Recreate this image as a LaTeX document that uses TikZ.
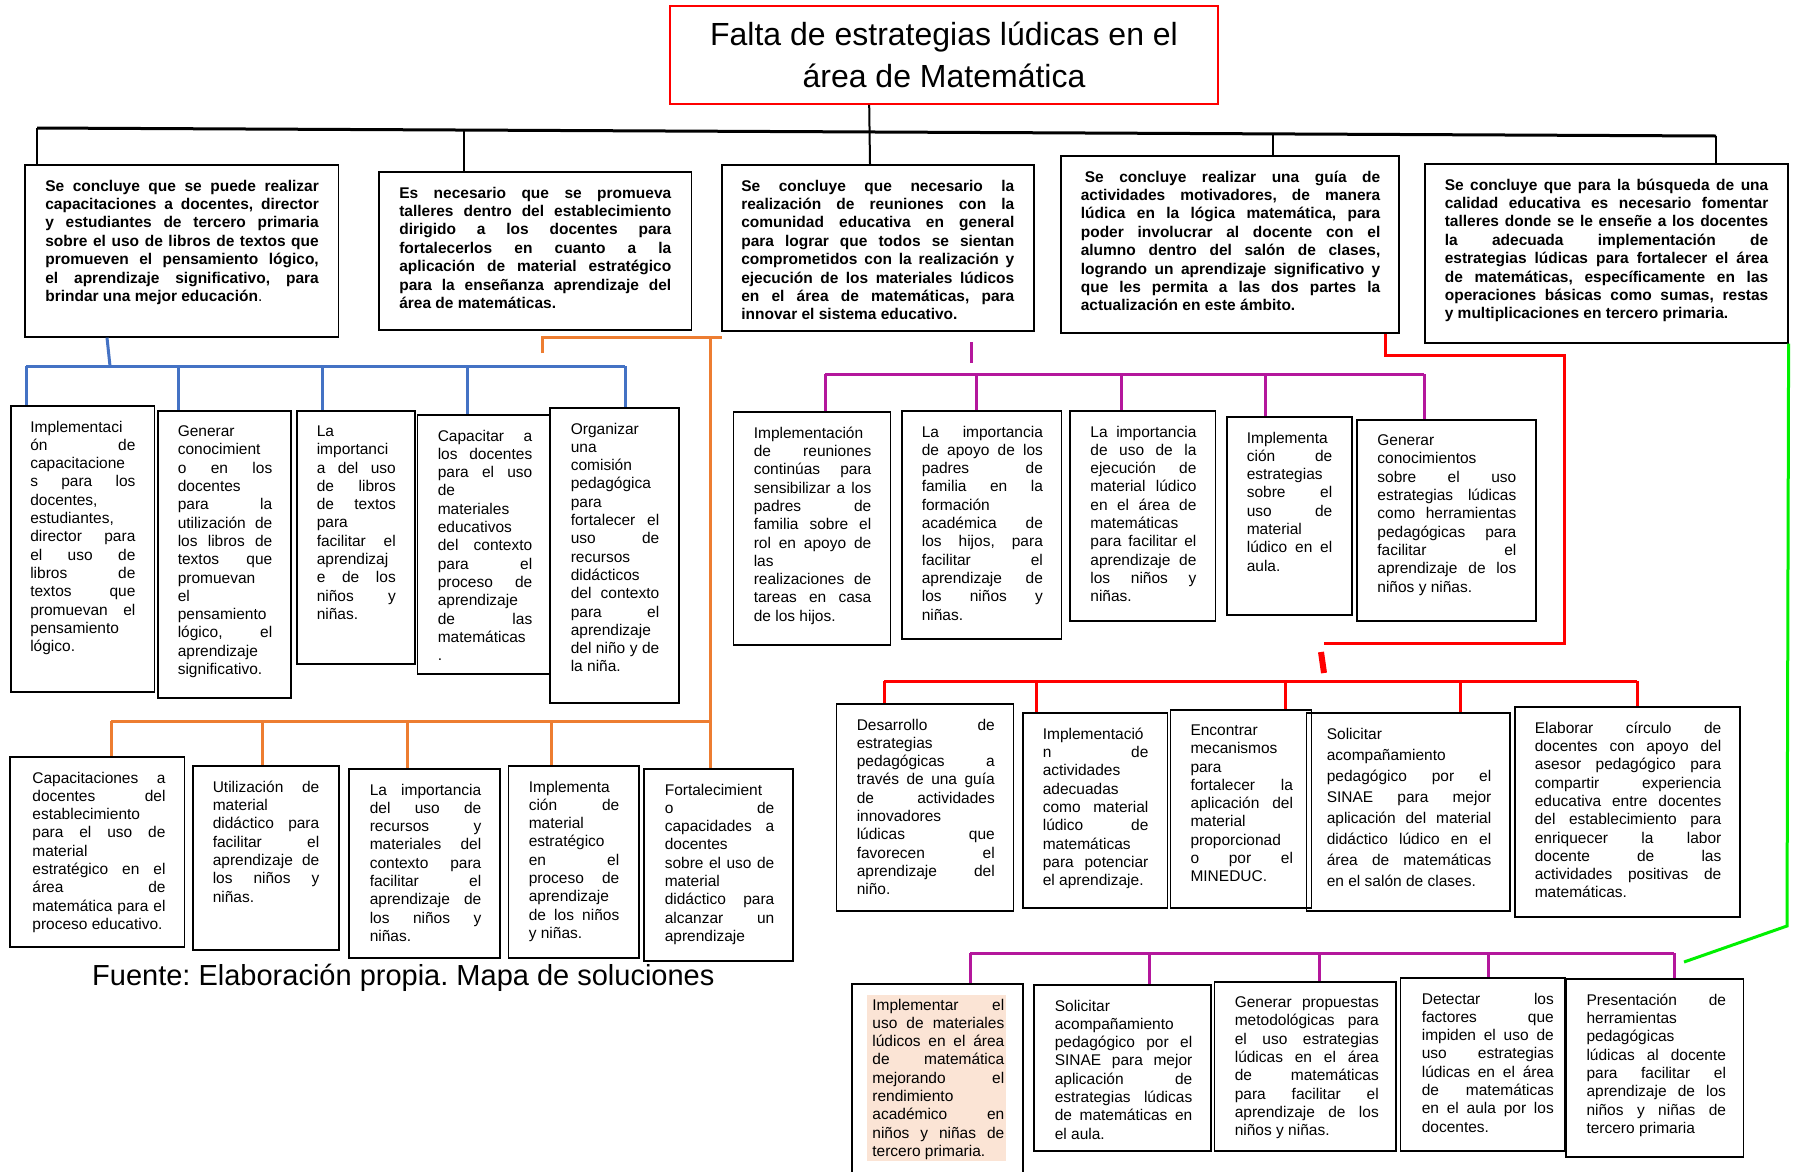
\documentclass[tikz,border=0pt]{standalone}
\usepackage{fontspec}
\setmainfont{Liberation Sans}
\usetikzlibrary{calc}
\frenchspacing

\definecolor{azul}{HTML}{4472C4}
\definecolor{naranja}{HTML}{ED7D31}
\definecolor{morado}{HTML}{B4179C}
\definecolor{rojo}{HTML}{FF0000}
\definecolor{verde}{HTML}{00F000}
\definecolor{durazno}{HTML}{FBE4D5}

\newcommand{\sal}{\linebreak}
\newcommand{\texto}[5]{\parbox[t][#2pt][t]{#1pt}{\leftskip=#3pt\rightskip=#4pt\tolerance=10000\hyphenpenalty=10000\vspace*{15pt}#5}}

\tikzset{
  caja/.style={draw, line width=1.6pt, inner sep=0pt, anchor=north west, font=\fontsize{15.5}{18.3}\selectfont},
  conclusion/.style={caja, font=\fontsize{15.5}{18.4}\selectfont\bfseries},
  titulo/.style={draw=rojo, line width=1.6pt, minimum width=548pt, minimum height=98pt, align=center, font=\fontsize{32}{42}\selectfont},
  troncal/.style={line width=3pt},
  rama/.style={line width=2pt},
  lazul/.style={draw=azul, line width=3pt},
  lnaranja/.style={draw=naranja, line width=3pt},
  lmorado/.style={draw=morado, line width=3pt},
  lrojo/.style={draw=rojo, line width=3pt},
  lverde/.style={draw=verde, line width=3pt}
}

\begin{document}
\begin{tikzpicture}[x=1pt,y=-1pt]
  \useasboundingbox (0,0) rectangle (1794,1171);
  \clip (0,0) rectangle (1794,1171);
  \fill[white] (0,0) rectangle (1794,1171);

  \node[titulo] (titulo) at (944,55) {Falta de estrategias lúdicas en el\\área de Matemática};

  \node[conclusion] (con1) at (24,164) {\texto{313.5}{172}{20.5}{19.5}{Se concluye que se puede realizar\sal capacitaciones a docentes, director\sal y estudiantes de tercero primaria\sal sobre el uso de libros de textos que\sal promueven el pensamiento lógico,\sal el aprendizaje significativo, para\sal brindar una mejor educación\textmd{.}}};
  \node[conclusion] (con2) at (378,171) {\texto{312.5}{158}{20.5}{20}{Es necesario que se promueva\sal talleres dentro del establecimiento\sal dirigido a los docentes para\sal fortalecerlos en cuanto a la\sal aplicación de material estratégico\sal para la enseñanza aprendizaje del\sal área de matemáticas.}};
  \node[conclusion] (con3) at (721,164) {\texto{312}{166}{19.5}{19.5}{Se concluye que necesario la\sal realización de reuniones con la\sal comunidad educativa en general\sal para lograr que todos se sientan\sal comprometidos con la realización y\sal ejecución de los materiales lúdicos\sal en el área de matemáticas, para\sal innovar el sistema educativo.}};
  \node[conclusion] (con4) at (1060,155) {\texto{338}{177}{20}{18.5}{\hspace*{4pt}Se concluye realizar una guía de\sal actividades motivadores, de manera\sal lúdica en la lógica matemática, para\sal poder involucrar al docente con el\sal alumno dentro del salón de clases,\sal logrando un aprendizaje significativo y\sal que les permita a las dos partes la\sal actualización en este ámbito.}};
  \node[conclusion] (con5) at (1424,163) {\texto{363}{179}{20}{19.5}{Se concluye que para la búsqueda de una\sal calidad educativa es necesario fomentar\sal talleres donde se le enseñe a los docentes\sal la adecuada implementación de\sal estrategias lúdicas para fortalecer el área\sal de matemáticas, específicamente en las\sal operaciones básicas como sumas, restas\sal y multiplicaciones en tercero primaria.}};

  \draw[troncal] (37,128) -- (1716,136);
  \draw[rama] ([xshift=13pt]con1.north west) -- (37,128);
  \draw[rama] ([xshift=85.7pt]con2.north west) -- (463.7,130);
  \draw[rama] ([xshift=200pt]titulo.south west) -- ([xshift=149pt]con3.north west);
  \draw[rama] ([xshift=213pt]con4.north west) -- (1273,134);
  \draw[rama] ([xshift=292pt]con5.north west) -- (1716,136);

  \node[caja] (az1) at (10,405) {\texto{143.6}{286}{19.5}{19}{Implementaci\sal ón de\sal capacitacione\sal s para los\sal docentes,\sal estudiantes,\sal director para\sal el uso de\sal libros de\sal textos que\sal promuevan el\sal pensamiento\sal lógico.}};
  \node[caja] (az2) at (157,410) {\texto{133}{287}{20}{18.5}{Generar\sal conocimient\sal o en los\sal docentes\sal para la\sal utilización de\sal los libros de\sal textos que\sal promuevan\sal el\sal pensamiento\sal lógico, el\sal aprendizaje\sal significativo.}};
  \node[caja] (az3) at (296,410) {\texto{118}{253}{20}{19}{La\sal importanci\sal a del uso\sal de libros\sal de textos\sal para\sal facilitar el\sal aprendizaj\sal e de los\sal niños y\sal niñas.}};
  \node[caja] (az4) at (416.5,414) {\texto{132.5}{259}{20.5}{17.5}{Capacitar a\sal los docentes\sal para el uso\sal de\sal materiales\sal educativos\sal del contexto\sal para el\sal proceso de\sal aprendizaje\sal de las\sal matemáticas\sal .}};
  \node[caja] (az5) at (549,407) {\texto{129}{295}{21}{19.5}{Organizar\sal una\sal comisión\sal pedagógica\sal para\sal fortalecer el\sal uso de\sal recursos\sal didácticos\sal del contexto\sal para el\sal aprendizaje\sal del niño y de\sal la niña.}};

  \draw[lazul] ([xshift=83pt]con1.south west) -- (110,366);
  \draw[lazul] (26,366) -- (625,366);
  \foreach \x/\caj in {26/az1,178/az2,322/az3,467/az4,625/az5}
    \draw[lazul] (\x,366) -- (\x,0 |- \caj.north);

  \node[caja] (na1) at (9,756) {\texto{174.7}{190}{22.6}{19}{Capacitaciones a\sal docentes del\sal establecimiento\sal para el uso de\sal material\sal estratégico en el\sal área de\sal matemática para el\sal proceso educativo.}};
  \node[caja] (na2) at (192,765) {\texto{146}{184}{20}{19.5}{Utilización de\sal material\sal didáctico para\sal facilitar el\sal aprendizaje de\sal los niños y\sal niñas.}};
  \node[caja] (na3) at (348,768) {\texto{151}{189}{21}{18.5}{La importancia\sal del uso de\sal recursos y\sal materiales del\sal contexto para\sal facilitar el\sal aprendizaje de\sal los niños y\sal niñas.}};
  \node[caja] (na4) at (507.7,765) {\texto{130.3}{192}{20.3}{19.5}{Implementa\sal ción de\sal material\sal estratégico\sal en el\sal proceso de\sal aprendizaje\sal de los niños\sal y niñas.}};
  \node[caja] (na5) at (643,768) {\texto{149}{192}{21}{18.5}{Fortalecimient\sal o de\sal capacidades a\sal docentes\sal sobre el uso de\sal material\sal didáctico para\sal alcanzar un\sal aprendizaje}};

  \draw[lnaranja] (542,353) -- (542,337) -- (722,337);
  \draw[lnaranja] (710,337) -- (710,721) -- (111,721);
  \foreach \x/\caj in {111/na1,262/na2,407/na3,551/na4,710/na5}
    \draw[lnaranja] (\x,721) -- (\x,0 |- \caj.north);

  \node[anchor=base west, inner sep=0pt, font=\fontsize{29}{34}\selectfont] (fuente) at (92,985) {Fuente: Elaboración propia. Mapa de soluciones};

  \node[caja] (mo1) at (732.5,411) {\texto{157}{233}{20.5}{19}{Implementación\sal de reuniones\sal continúas para\sal sensibilizar a los\sal padres de\sal familia sobre el\sal rol en apoyo de\sal las\sal realizaciones de\sal tareas en casa\sal de los hijos.}};
  \node[caja] (mo2) at (901,410) {\texto{159.6}{228}{20}{18.5}{La importancia\sal de apoyo de los\sal padres de\sal familia en la\sal formación\sal académica de\sal los hijos, para\sal facilitar el\sal aprendizaje de\sal los niños y\sal niñas.}};
  \node[caja] (mo3) at (1069,410) {\texto{145.6}{210}{20.6}{19}{La importancia\sal de uso de la\sal ejecución de\sal material lúdico\sal en el área de\sal matemáticas\sal para facilitar el\sal aprendizaje de\sal los niños y\sal niñas.}};
  \node[caja] (mo4) at (1226,416) {\texto{125}{198}{20}{19.5}{Implementa\sal ción de\sal estrategias\sal sobre el\sal uso de\sal material\sal lúdico en el\sal aula.}};
  \node[caja] (mo5) at (1356,419) {\texto{179}{201}{20.6}{19.5}{Generar\sal conocimientos\sal sobre el uso\sal estrategias lúdicas\sal como herramientas\sal pedagógicas para\sal facilitar el\sal aprendizaje de los\sal niños y niñas.}};

  \draw[lmorado] (971,342) -- (971,363);
  \draw[lmorado] (825,374) -- (1424,374);
  \foreach \x/\caj in {825/mo1,976/mo2,1121/mo3,1265/mo4,1424/mo5}
    \draw[lmorado] (\x,374) -- (\x,0 |- \caj.north);

  \node[caja] (ro1) at (835.5,703) {\texto{177}{207}{20.5}{18.5}{Desarrollo de\sal estrategias\sal pedagógicas a\sal través de una guía\sal de actividades\sal innovadores\sal lúdicas que\sal favorecen el\sal aprendizaje del\sal niño.}};
  \node[caja] (ro2) at (1022,712) {\texto{144.6}{195}{20}{19}{Implementació\sal n de\sal actividades\sal adecuadas\sal como material\sal lúdico de\sal matemáticas\sal para potenciar\sal el aprendizaje.}};
  \node[caja] (ro3) at (1169.7,709) {\texto{141}{198}{20}{18.5}{Encontrar\sal mecanismos\sal para\sal fortalecer la\sal aplicación del\sal material\sal proporcionad\sal o por el\sal MINEDUC.}};
  \node[caja] (ro4) at (1305.7,712) {\texto{203.3}{198}{20.3}{18.5}{\baselineskip=21pt Solicitar\sal acompañamiento\sal pedagógico por el\sal SINAE para mejor\sal aplicación del material\sal didáctico lúdico en el\sal área de matemáticas\sal en el salón de clases.}};
  \node[caja] (ro5) at (1514,706) {\texto{225}{210}{20}{18.5}{Elaborar círculo de\sal docentes con apoyo del\sal asesor pedagógico para\sal compartir experiencia\sal educativa entre docentes\sal del establecimiento para\sal enriquecer la labor\sal docente de las\sal actividades positivas de\sal matemáticas.}};

  \draw[lrojo] ([xshift=325pt]con4.south west) |- (1564,355) -- (1564,643) -- (1324,643);
  \draw[lrojo, line width=6pt] (1321,652) -- (1324,673);
  \draw[lrojo] (884,681) -- (1637,681);
  \foreach \x/\caj in {884/ro1,1036/ro2,1285/ro3,1460/ro4,1637/ro5}
    \draw[lrojo] (\x,681) -- (\x,0 |- \caj.north);

  \fill[durazno] (867,995) rectangle (1005.5,1161);
  \node[caja] (vi1) at (851,983) {\texto{171}{195}{20.6}{18.5}{Implementar el\sal uso de materiales\sal lúdicos en el área\sal de matemática\sal mejorando el\sal rendimiento\sal académico en\sal niños y niñas de\sal tercero primaria.}};
  \node[caja] (vi2) at (1033,984) {\texto{177}{166}{21}{18.5}{Solicitar\sal acompañamiento\sal pedagógico por el\sal SINAE para mejor\sal aplicación de\sal estrategias lúdicas\sal de matemáticas en\sal el aula.}};
  \node[caja] (vi3) at (1213.5,981) {\texto{181.5}{169}{20.5}{17}{Generar propuestas\sal metodológicas para\sal el uso estrategias\sal lúdicas en el área\sal de matemáticas\sal para facilitar el\sal aprendizaje de los\sal niños y niñas.}};
  \node[caja] (vi4) at (1399.6,977) {\texto{164.4}{173}{21.4}{11}{Detectar los\sal factores que\sal impiden el uso de\sal uso estrategias\sal lúdicas en el área\sal de matemáticas\sal en el aula por los\sal docentes.}};
  \node[caja] (vi5) at (1565,978) {\texto{177.7}{178}{20.7}{17.5}{Presentación de\sal herramientas\sal pedagógicas\sal lúdicas al docente\sal para facilitar el\sal aprendizaje de los\sal niños y niñas de\sal tercero primaria}};

  \draw[lverde] (con5.south east) -- (1787,926) -- (1684,962);
  \draw[lmorado] (970,953) -- (1674,953);
  \foreach \x/\caj in {970/vi1,1149/vi2,1319/vi3,1488/vi4,1674/vi5}
    \draw[lmorado] (\x,953) -- (\x,0 |- \caj.north);
\end{tikzpicture}
\end{document}
